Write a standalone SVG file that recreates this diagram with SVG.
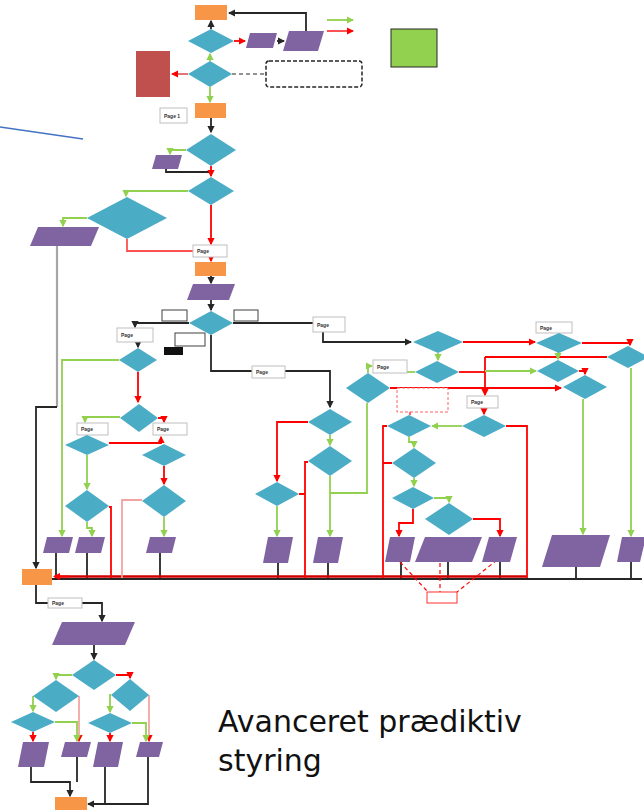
<svg xmlns="http://www.w3.org/2000/svg" width="644" height="811" viewBox="0 0 644 811">
<style>
.d{fill:#4BACC6}
.p{fill:#8064A2}
.o{fill:#F79646}
.pg{fill:#fff;stroke:#BFBFBF;stroke-width:1}
.pt{font-family:"Liberation Sans",Arial,sans-serif;font-size:5px;fill:#333;font-weight:bold}
.k{stroke:#262626;fill:none;stroke-width:1.8}
.gy{stroke:#A6A6A6;fill:none;stroke-width:2.2}
.r{stroke:#FF0000;fill:none;stroke-width:1.8}
.pr{stroke:#F4A3A3;fill:none;stroke-width:1.8}
.g{stroke:#92D050;fill:none;stroke-width:1.8}
.rd{stroke:#FF0000;fill:none;stroke-width:1.2;stroke-dasharray:4 3}
</style>
<defs>
<marker id="ak" viewBox="0 0 6 6" refX="5" refY="3" markerWidth="4" markerHeight="4" orient="auto"><path d="M0,0L6,3L0,6z" fill="#262626"/></marker>
<marker id="ar" viewBox="0 0 6 6" refX="5" refY="3" markerWidth="4" markerHeight="4" orient="auto"><path d="M0,0L6,3L0,6z" fill="#FF0000"/></marker>
<marker id="ag" viewBox="0 0 6 6" refX="5" refY="3" markerWidth="4" markerHeight="4" orient="auto"><path d="M0,0L6,3L0,6z" fill="#92D050"/></marker>
</defs>

<line x1="0" y1="127" x2="83" y2="139" stroke="#4472C4" stroke-width="1.5"/>

<g id="connectors">
<!-- black -->
<path class="k" d="M211,29V21" marker-end="url(#ak)"/>
<path class="k" d="M277,41H284" marker-end="url(#ak)"/>
<path class="k" d="M306,31V13H229" marker-end="url(#ak)"/>
<path class="k" d="M211,118V132" marker-end="url(#ak)"/>
<path class="k" d="M166,169V172H211"/>
<path class="k" d="M211,276V283" marker-end="url(#ak)"/>
<path class="k" d="M211,300V310" marker-end="url(#ak)"/>
<path class="k" d="M189,323H135V327" marker-end="url(#ak)"/>
<path class="k" d="M233,323H313"/>
<path class="k" d="M323,332V342H411" marker-end="url(#ak)"/>
<path class="k" d="M211,335V371H330V407" marker-end="url(#ak)"/>
<path class="k" d="M138,342V347" marker-end="url(#ak)"/>
<path class="gy" d="M57,246V407"/>
<path class="k" d="M57,407H36V568" marker-end="url(#ak)"/>
<path class="k" d="M56,553V578M87,553V578M160,553V578M278,563V578M328,563V578M401,562V578M448,562V578M500,562V578M576,567V578M631,562V578"/>
<path class="k" d="M52,579H642"/>
<path d="M55,576.5H527" stroke="#D00000" stroke-width="2.6" fill="none"/>
<path class="r" d="M70,576.5H54" marker-end="url(#ar)"/>
<path class="k" d="M36,585V603H48"/>
<path class="k" d="M82,603H102V621" marker-end="url(#ak)"/>
<path class="k" d="M94,645V659" marker-end="url(#ak)"/>
<path class="k" d="M31,767V782H70V796" marker-end="url(#ak)"/>
<path class="k" d="M77,757V782"/>
<path class="k" d="M105,767V804H88" marker-end="url(#ak)"/>
<path class="k" d="M148,757V804H105"/>
<!-- red -->
<path class="r" d="M234,41H245" marker-end="url(#ar)"/>
<path class="r" d="M211,166V176" marker-end="url(#ar)"/>
<path class="r" d="M211,205V244" marker-end="url(#ar)"/>
<path class="r" d="M211,257V261" marker-end="url(#ar)"/>
<path class="r" d="M127,239V251H193" style="stroke:#FF5050"/>
<path class="r" d="M188,74H172" style="stroke:#E06666" marker-end="url(#ar)"/>
<path class="r" d="M463,342H535" marker-end="url(#ar)"/>
<path class="r" d="M582,343H630V345" marker-end="url(#ar)"/>
<path class="r" d="M485,357H607"/>
<path class="r" d="M485,357V395" marker-end="url(#ar)"/>
<path class="r" d="M459,372H485"/>
<path class="r" d="M390,388H561" marker-end="url(#ar)"/>
<path class="r" d="M579,371H585V374" marker-end="url(#ar)"/>
<path class="r" d="M484,408V414" marker-end="url(#ar)"/>
<path class="r" d="M506,426H527V578"/>
<path class="r" d="M387,426H383V578M383,463H392"/>
<path class="r" d="M413,509V523H399V536" marker-end="url(#ar)"/>
<path class="r" d="M473,519H500V536" marker-end="url(#ar)"/>
<path class="r" d="M308,422H277V481" marker-end="url(#ar)"/>
<path class="r" d="M308,462H305V578M299,494H305"/>
<path class="r" d="M138,372V402" marker-end="url(#ar)"/>
<path class="r" d="M158,418H164V422" marker-end="url(#ar)"/>
<path class="r" d="M109,443H161V437" marker-end="url(#ar)"/>
<path class="r" d="M164,466V484" marker-end="url(#ar)"/>
<path class="r" d="M109,507H111V578"/>
<path class="pr" d="M142,500H122V578"/>
<path class="r" d="M116,675H130V678" marker-end="url(#ar)"/>
<path class="pr" d="M79,696V741" marker-end="url(#ar)"/>
<path class="r" d="M33,732V741" marker-end="url(#ar)"/>
<path class="pr" d="M149,695V741" marker-end="url(#ar)"/>
<path class="r" d="M110,733V741" marker-end="url(#ar)"/>
<!-- green -->
<path class="g" d="M210,61V54" marker-end="url(#ag)"/>
<path class="g" d="M210,87V102" marker-end="url(#ag)"/>
<path class="g" d="M186,150H170V154" marker-end="url(#ag)"/>
<path class="g" d="M188,191H126V196" marker-end="url(#ag)"/>
<path class="g" d="M87,218H63V226" marker-end="url(#ag)"/>
<path class="g" d="M119,360H62V536" marker-end="url(#ag)"/>
<path class="g" d="M120,417H85V422" marker-end="url(#ag)"/>
<path class="g" d="M87,455V489" marker-end="url(#ag)"/>
<path class="g" d="M87,522V528H92V536" marker-end="url(#ag)"/>
<path class="g" d="M164,517V536" marker-end="url(#ag)"/>
<path class="g" d="M438,353V360" marker-end="url(#ag)"/>
<path class="g" d="M558,352V359" marker-end="url(#ag)"/>
<path class="g" d="M631,368V536" marker-end="url(#ag)"/>
<path class="g" d="M583,399V534" marker-end="url(#ag)"/>
<path class="g" d="M415,372H407"/>
<path class="g" d="M368,373V366H372" marker-end="url(#ag)"/>
<path class="g" d="M485,371H536" marker-end="url(#ag)"/>
<path class="g" d="M367,403V493H330"/>
<path class="g" d="M330,435V445" marker-end="url(#ag)"/>
<path class="g" d="M330,476V536" marker-end="url(#ag)"/>
<path class="g" d="M277,506V536" marker-end="url(#ag)"/>
<path class="g" d="M462,426H432" marker-end="url(#ag)"/>
<path class="g" d="M409,437V442H414V447" marker-end="url(#ag)"/>
<path class="g" d="M414,478V486" marker-end="url(#ag)"/>
<path class="g" d="M434,498H449V502" marker-end="url(#ag)"/>
<path class="g" d="M72,675H56V679" marker-end="url(#ag)"/>
<path class="g" d="M33,696V711" marker-end="url(#ag)"/>
<path class="g" d="M55,722H77V741" marker-end="url(#ag)"/>
<path class="g" d="M111,695H110V712" marker-end="url(#ag)"/>
<path class="g" d="M132,723H146V741" marker-end="url(#ag)"/>
<!-- legend -->
<path class="g" d="M327,20H353" marker-end="url(#ag)"/>
<path class="r" d="M327,31H353" style="stroke:#FF4040" marker-end="url(#ar)"/>
<!-- dashed -->
<path d="M232,74H266" stroke="#262626" stroke-width="1.2" stroke-dasharray="4 3" fill="none"/>
<path class="rd" d="M400,562L428,592M440,563V592M497,560L457,592M410,412V415"/>
</g>

<g id="start"><rect class="o" x="195" y="5" width="32" height="15"/></g>
<g id="d1"><polygon class="d" points="188,41 211,29 234,41 211,53"/></g>
<g id="d2"><polygon class="d" points="188,74 210,61 232,74 210,87"/></g>
<g id="para1"><polygon class="p" points="250,33 277,33 273,48 246,48"/></g>
<g id="para2"><polygon class="p" points="289,31 324,31 318,51 283,51"/></g>
<g id="redbox"><rect x="136" y="51" width="34" height="46" fill="#C0504D"/></g>
<g id="note1"><rect x="266" y="61" width="96" height="26" rx="3" fill="#fff" stroke="#262626" stroke-width="1.5" stroke-dasharray="4 2"/></g>
<g id="greenbox"><rect x="391" y="29" width="46" height="38" fill="#92D050" stroke="#262626" stroke-width="1"/></g>
<g id="o2"><rect class="o" x="195" y="103" width="31" height="15"/></g>
<g id="pg1"><rect class="pg" x="160" y="108" width="27" height="15"/><text class="pt" x="164" y="117.5">Page 1</text></g>
<g id="d3"><polygon class="d" points="186,150 211,134 236,150 211,166"/></g>
<g id="pa3"><polygon class="p" points="156,155 182,155 178,169 152,169"/></g>
<g id="d4"><polygon class="d" points="188,191 211,177 234,191 211,205"/></g>
<g id="d5"><polygon class="d" points="87,218 127,197 167,218 127,239"/></g>
<g id="pa4"><polygon class="p" points="38,227 99,227 91,246 30,246"/></g>
<g id="pg2"><rect class="pg" x="193" y="245" width="34" height="12"/><text class="pt" x="197" y="253">Page</text></g>
<g id="o3"><rect class="o" x="195" y="262" width="31" height="14"/></g>
<g id="pa5"><polygon class="p" points="193,284 235,284 229,300 187,300"/></g>
<g id="d6"><polygon class="d" points="189,323 211,311 233,323 211,335"/></g>
<g id="lab1"><rect class="pg" x="162" y="310" width="25" height="11" style="stroke:#404040"/></g>
<g id="lab2"><rect class="pg" x="234" y="310" width="24" height="11" style="stroke:#404040"/></g>
<g id="lab3"><rect class="pg" x="175" y="333" width="30" height="13" style="stroke:#404040"/></g>
<g id="lab4"><rect x="164" y="347" width="19" height="8" fill="#111"/></g>
<g id="pg3"><rect class="pg" x="117" y="328" width="36" height="14"/><text class="pt" x="121" y="337">Page</text></g>
<g id="pg4"><rect class="pg" x="313" y="317" width="32" height="15"/><text class="pt" x="317" y="326.5">Page</text></g>
<g id="pg5"><rect class="pg" x="252" y="366" width="33" height="12"/><text class="pt" x="256" y="374">Page</text></g>
<g id="pg6"><rect class="pg" x="536" y="322" width="36" height="11"/><text class="pt" x="540" y="329.5">Page</text></g>
<g id="pg7"><rect class="pg" x="373" y="360" width="34" height="13"/><text class="pt" x="377" y="368.5">Page</text></g>
<g id="pg8"><rect class="pg" x="467" y="396" width="31" height="12"/><text class="pt" x="471" y="404">Page</text></g>
<g id="pg9"><rect class="pg" x="77" y="423" width="31" height="12"/><text class="pt" x="81" y="431">Page</text></g>
<g id="pg10"><rect class="pg" x="153" y="423" width="34" height="12"/><text class="pt" x="157" y="431">Page</text></g>
<g id="p1"><polygon class="d" points="413,342 438,331 463,342 438,353"/></g>
<g id="p2"><polygon class="d" points="536,343 559,333 582,343 559,353"/></g>
<g id="p3"><polygon class="d" points="607,357 628,346 649,357 628,368"/></g>
<g id="p4"><polygon class="d" points="415,372 437,361 459,372 437,383"/></g>
<g id="p5"><polygon class="d" points="537,371 558,360 579,371 558,382"/></g>
<g id="p6"><polygon class="d" points="563,387 585,375 607,387 585,399"/></g>
<g id="p7"><polygon class="d" points="346,388 368,373 390,388 368,403"/></g>
<g id="note2"><rect x="397" y="388" width="51" height="24" fill="#fff" stroke="#FF6060" stroke-width="1" stroke-dasharray="3 2"/></g>
<g id="p8"><polygon class="d" points="462,426 484,415 506,426 484,437"/></g>
<g id="p9"><polygon class="d" points="387,426 409,415 431,426 409,437"/></g>
<g id="p10"><polygon class="d" points="392,463 414,448 436,463 414,478"/></g>
<g id="p11"><polygon class="d" points="392,498 413,487 434,498 413,509"/></g>
<g id="p12"><polygon class="d" points="425,519 449,503 473,519 449,535"/></g>
<g id="q1"><polygon class="d" points="308,422 330,409 352,422 330,435"/></g>
<g id="q2"><polygon class="d" points="308,461 330,446 352,461 330,476"/></g>
<g id="q3"><polygon class="d" points="255,494 277,482 299,494 277,506"/></g>
<g id="l1"><polygon class="d" points="119,360 138,348 157,360 138,372"/></g>
<g id="l2"><polygon class="d" points="120,418 139,404 158,418 139,432"/></g>
<g id="l3"><polygon class="d" points="65,445 87,435 109,445 87,455"/></g>
<g id="l4"><polygon class="d" points="142,455 164,444 186,455 164,466"/></g>
<g id="l5"><polygon class="d" points="142,501 164,485 186,501 164,517"/></g>
<g id="l6"><polygon class="d" points="65,506 87,490 109,506 87,522"/></g>
<g id="pla"><polygon class="p" points="47,537 73,537 69,553 43,553"/></g>
<g id="plb"><polygon class="p" points="79,537 105,537 101,553 75,553"/></g>
<g id="plc"><polygon class="p" points="150,537 176,537 172,553 146,553"/></g>
<g id="pA"><polygon class="p" points="268,537 293,537 288,563 263,563"/></g>
<g id="pB"><polygon class="p" points="318,537 343,537 338,563 313,563"/></g>
<g id="pC"><polygon class="p" points="390,537 415,537 410,562 385,562"/></g>
<g id="pD"><polygon class="p" points="425,537 482,537 472,562 415,562"/></g>
<g id="pE"><polygon class="p" points="489,537 517,537 510,562 482,562"/></g>
<g id="pF"><polygon class="p" points="552,535 610,535 600,567 542,567"/></g>
<g id="pG"><polygon class="p" points="622,537 646,537 640,562 617,562"/></g>
<g id="note3"><rect x="427" y="592" width="30" height="11" fill="#fff" stroke="#FF3030" stroke-width="1"/></g>
<g id="o4"><rect class="o" x="22" y="569" width="30" height="16"/></g>
<g id="pg11"><rect class="pg" x="48" y="598" width="34" height="10"/><text class="pt" x="52" y="605">Page</text></g>
<g id="pbig"><polygon class="p" points="62,622 135,622 125,645 52,645"/></g>
<g id="b1"><polygon class="d" points="72,675 94,660 116,675 94,690"/></g>
<g id="b2"><polygon class="d" points="33,696 56,680 79,696 56,712"/></g>
<g id="b3"><polygon class="d" points="111,695 130,679 149,695 130,711"/></g>
<g id="b4"><polygon class="d" points="11,722 33,712 55,722 33,732"/></g>
<g id="b5"><polygon class="d" points="88,723 110,713 132,723 110,733"/></g>
<g id="pba"><polygon class="p" points="23,742 49,742 44,767 18,767"/></g>
<g id="pbb"><polygon class="p" points="65,742 91,742 87,757 61,757"/></g>
<g id="pbc"><polygon class="p" points="98,742 123,742 118,767 93,767"/></g>
<g id="pbd"><polygon class="p" points="140,742 163,742 159,757 136,757"/></g>
<g id="end"><rect class="o" x="55" y="797" width="32" height="13"/></g>

<g id="title" font-family="DejaVu Sans, Verdana, sans-serif" font-size="30" fill="#111">
<text x="218" y="732">Avanceret prædiktiv</text>
<text x="218" y="771">styring</text>
</g>
</svg>
